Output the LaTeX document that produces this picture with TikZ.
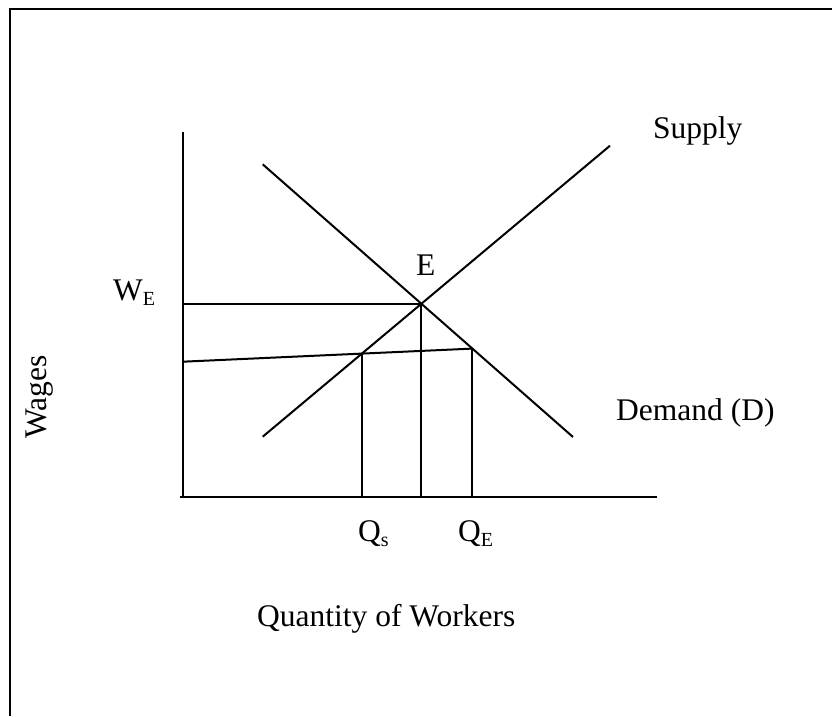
\documentclass[tikz,border=0pt]{standalone}
\usepackage{fontspec}
\setmainfont{Liberation Serif}
\usetikzlibrary{positioning}
\newcommand{\lowsub}[1]{\raisebox{-0.16em}{\fontsize{20}{20}\selectfont #1}}

\begin{document}
\begin{tikzpicture}[
    x=1pt, y=-1pt,
    lbl/.style={inner sep=0pt, font=\fontsize{31.5}{38}\selectfont},
    curve/.style={line width=2pt},
    axis/.style={line width=2pt},
    frame/.style={line width=2.8pt},
]
\useasboundingbox (0,0) rectangle (832,716);

% frame (top and left edges only)
\coordinate (fTR) at (832,9);
\coordinate (fTL) at (10,9);
\coordinate (fBL) at (10,716);
\draw[frame] (fTR) -- (fTL) -- (fBL);

% axes
\coordinate (yTop) at (182.5,131.5);
\coordinate (orig) at (182.5,497);
\coordinate (xEnd) at (657,497);
\draw[axis] (yTop) -- (orig);
\draw[axis, line width=2.8pt] (180,497) -- (xEnd);

% supply and demand
\coordinate (sLo) at (262.7,436.7);
\coordinate (sHi) at (610,145.7);
\coordinate (dHi) at (262.7,164.3);
\coordinate (dLo) at (573,437);
\draw[curve] (sLo) -- (sHi);
\draw[curve] (dHi) -- (dLo);

% equilibrium
\coordinate (eq) at (intersection of sLo--sHi and dHi--dLo);
\draw[curve] (yTop |- eq) -- (eq);
\draw[curve] (eq) -- (eq |- orig);

% wage line
\coordinate (fL) at (182.5,361.7);
\coordinate (fR) at (472.3,348.6);
\draw[curve] (fL) -- (fR);
\coordinate (qsTop) at (intersection of sLo--sHi and fL--fR);
\draw[curve] (qsTop) -- (qsTop |- orig);
\draw[curve] (fR) -- (fR |- orig);

% labels
\node[lbl, anchor=base west] (supLbl) at (653,138) {Supply};
\node[lbl, anchor=base west] (eLbl) at (416,275) {E};
\node[lbl, anchor=base west] (wLbl) at (113,300) {W\lowsub{E}};
\node[lbl, rotate=90] (wageLbl) at (40,397) {Wages};
\node[lbl, anchor=base west] (demLbl) at (616,420) {Demand (D)};
\node[lbl, anchor=base west] (qsLbl) at (358,541) {Q\lowsub{s}};
\node[lbl, anchor=base west] (qeLbl) at (458,541) {Q\lowsub{E}};
\node[lbl, anchor=base west] (qtyLbl) at (257,626) {Quantity of Workers};

\end{tikzpicture}
\end{document}
